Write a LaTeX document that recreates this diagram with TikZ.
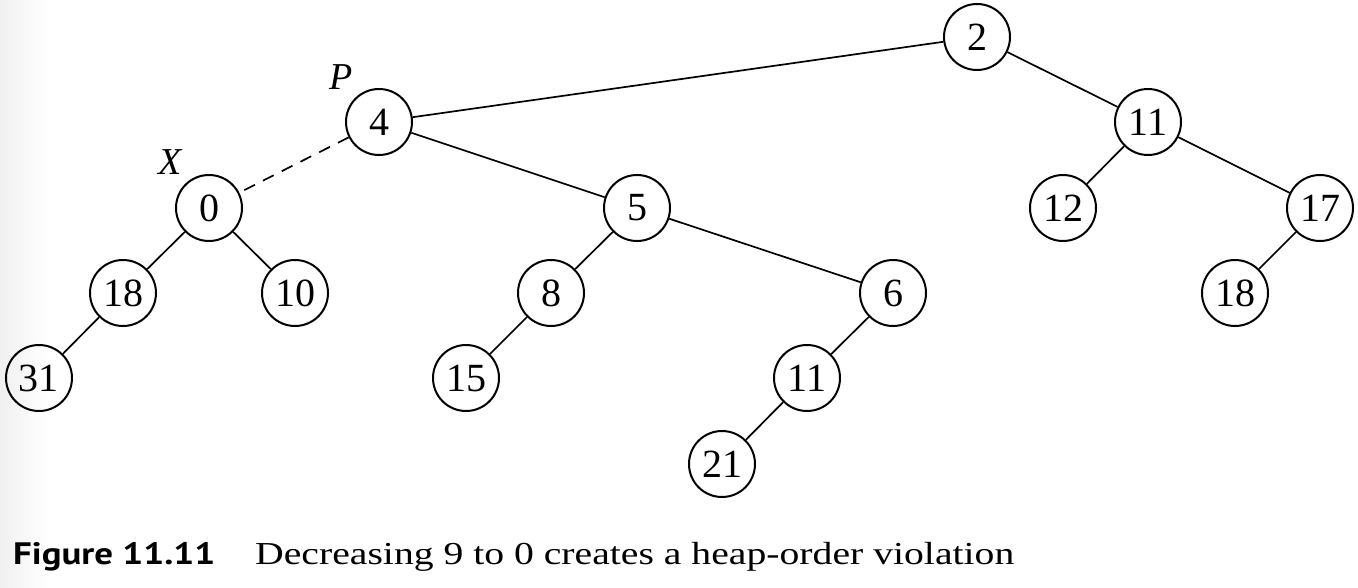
\documentclass[tikz,border=0pt]{standalone}
\usepackage{fontspec}
\setmainfont{Liberation Serif}
\newfontfamily\capsans[FakeStretch=1.19]{PT Sans}
\newfontfamily\capserif[FakeStretch=1.24]{Liberation Serif}
\begin{document}
\begin{tikzpicture}[x=1pt,y=-1pt,
  hnode/.style={circle,draw,line width=2pt,minimum size=66pt,inner sep=0pt,font=\fontsize{40}{44}\selectfont},
  edge/.style={line width=1.7pt},
  dedge/.style={line width=1.7pt,dash pattern=on 12pt off 9pt},
  lbl/.style={inner sep=0pt,font=\fontsize{38}{42}\selectfont\itshape}]
\useasboundingbox (0,0) rectangle (1358,588);
\shade[left color=black!6,right color=white] (0,0) rectangle (48,588);
\node[hnode] (n2) at (977,37) {2};
\node[hnode] (n11a) at (1148,122) {11};
\node[hnode] (n12) at (1063,208) {12};
\node[hnode] (n17) at (1320,208) {17};
\node[hnode] (n18b) at (1235,293) {18};
\node[hnode] (n4) at (379,122) {4};
\node[hnode] (n0) at (209,208) {0};
\node[hnode] (n18) at (123,293) {18};
\node[hnode] (n10) at (295,293) {10};
\node[hnode] (n31) at (39,378) {31};
\node[hnode] (n5) at (637,208) {5};
\node[hnode] (n8) at (551,293) {8};
\node[hnode] (n6) at (893,293) {6};
\node[hnode] (n15) at (466,378) {15};
\node[hnode] (n11) at (807,378) {11};
\node[hnode] (n21) at (722,464) {21};
\node[lbl] (lp) at (341,77) {P};
\node[lbl] (lx) at (170,162) {X};
\draw[edge] (n2) -- (n4);
\draw[edge] (n2) -- (n11a);
\draw[edge] (n11a) -- (n12);
\draw[edge] (n11a) -- (n17);
\draw[edge] (n17) -- (n18b);
\draw[dedge] (n4) -- (n0);
\draw[edge] (n4) -- (n5);
\draw[edge] (n0) -- (n18);
\draw[edge] (n0) -- (n10);
\draw[edge] (n18) -- (n31);
\draw[edge] (n5) -- (n8);
\draw[edge] (n5) -- (n6);
\draw[edge] (n8) -- (n15);
\draw[edge] (n6) -- (n11);
\draw[edge] (n11) -- (n21);
\node[anchor=base west,inner sep=0pt,font=\capsans\bfseries\fontsize{31}{36}\selectfont] (cap1) at (13,564) {Figure 11.11};
\node[anchor=base west,inner sep=0pt,font=\capserif\fontsize{32}{36}\selectfont] (cap2) at (255,564) {Decreasing 9 to 0 creates a heap-order violation};
\end{tikzpicture}
\end{document}
